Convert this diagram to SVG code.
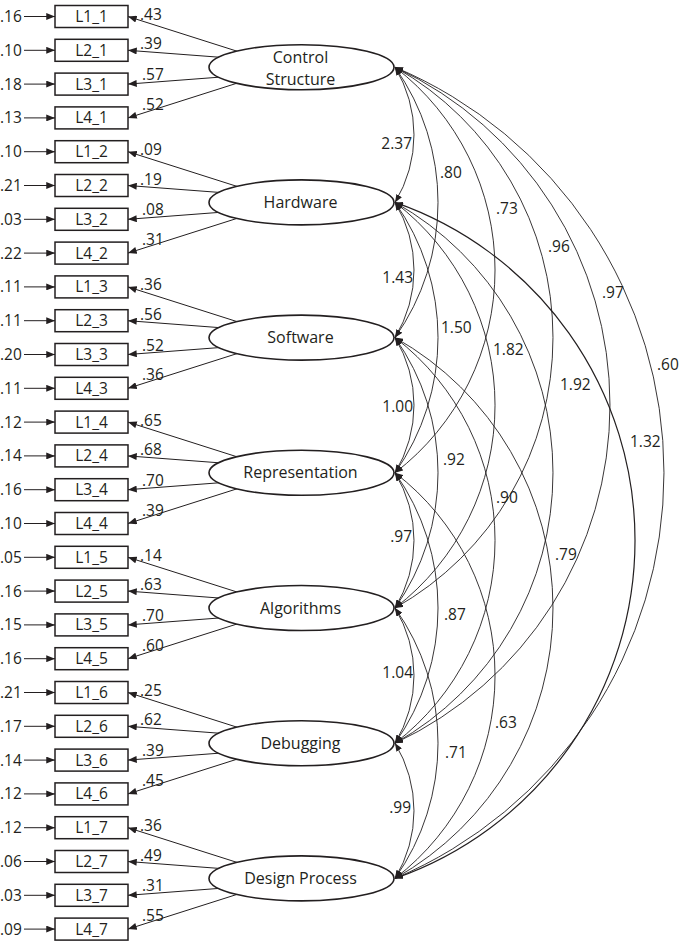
<svg xmlns="http://www.w3.org/2000/svg" width="685" height="942" viewBox="0 0 685 942">
<style>
text{font-family:"Open Sans","Liberation Sans",sans-serif;fill:#231f20}
.t{font-size:15.5px}
.f{font-size:16px;text-anchor:middle}
.b{font-size:15.5px;text-anchor:middle}
.cl{font-size:15.5px;text-anchor:end}
rect{fill:#fff;stroke:#231f20;stroke-width:1.5}
ellipse{fill:#fff;stroke:#231f20;stroke-width:1.6}
.ln{stroke:#231f20;stroke-width:1;fill:none;marker-end:url(#ah)}
.cv{stroke:#231f20;stroke-width:0.9;fill:none;marker-start:url(#ah2);marker-end:url(#ah2)}
</style>
<defs>
<marker id="ah" viewBox="0 0 10 8" refX="10" refY="4" markerWidth="9" markerHeight="7" orient="auto-start-reverse" markerUnits="userSpaceOnUse"><path d="M0,0 L10,4 L0,8 z" fill="#231f20"/></marker>
<marker id="ah2" viewBox="0 0 10 8" refX="10" refY="4" markerWidth="8" markerHeight="6.5" orient="auto-start-reverse" markerUnits="userSpaceOnUse"><path d="M0,0 L10,4 L0,8 z" fill="#231f20"/></marker>
</defs>
<rect x="0" y="0" width="685" height="942" style="fill:#fff;stroke:none"/>

<g id="connectors">
<g id="error-arrows">
<line class="ln" x1="24" y1="16.5" x2="55" y2="16.5"/>
<line class="ln" x1="24" y1="50.3" x2="55" y2="50.3"/>
<line class="ln" x1="24" y1="84.1" x2="55" y2="84.1"/>
<line class="ln" x1="24" y1="117.9" x2="55" y2="117.9"/>
<line class="ln" x1="24" y1="151.7" x2="55" y2="151.7"/>
<line class="ln" x1="24" y1="185.5" x2="55" y2="185.5"/>
<line class="ln" x1="24" y1="219.3" x2="55" y2="219.3"/>
<line class="ln" x1="24" y1="253.1" x2="55" y2="253.1"/>
<line class="ln" x1="24" y1="286.9" x2="55" y2="286.9"/>
<line class="ln" x1="24" y1="320.7" x2="55" y2="320.7"/>
<line class="ln" x1="24" y1="354.5" x2="55" y2="354.5"/>
<line class="ln" x1="24" y1="388.3" x2="55" y2="388.3"/>
<line class="ln" x1="24" y1="422.1" x2="55" y2="422.1"/>
<line class="ln" x1="24" y1="455.9" x2="55" y2="455.9"/>
<line class="ln" x1="24" y1="489.7" x2="55" y2="489.7"/>
<line class="ln" x1="24" y1="523.5" x2="55" y2="523.5"/>
<line class="ln" x1="24" y1="557.3" x2="55" y2="557.3"/>
<line class="ln" x1="24" y1="591.1" x2="55" y2="591.1"/>
<line class="ln" x1="24" y1="624.9" x2="55" y2="624.9"/>
<line class="ln" x1="24" y1="658.7" x2="55" y2="658.7"/>
<line class="ln" x1="24" y1="692.5" x2="55" y2="692.5"/>
<line class="ln" x1="24" y1="726.3" x2="55" y2="726.3"/>
<line class="ln" x1="24" y1="760.1" x2="55" y2="760.1"/>
<line class="ln" x1="24" y1="793.9" x2="55" y2="793.9"/>
<line class="ln" x1="24" y1="827.7" x2="55" y2="827.7"/>
<line class="ln" x1="24" y1="861.5" x2="55" y2="861.5"/>
<line class="ln" x1="24" y1="895.3" x2="55" y2="895.3"/>
<line class="ln" x1="24" y1="929.1" x2="55" y2="929.1"/>
</g>
<g id="loadings">
<line class="ln" x1="237" y1="51.2" x2="128" y2="16.5"/>
<line class="ln" x1="219" y1="57.2" x2="128" y2="50.3"/>
<line class="ln" x1="219" y1="77.2" x2="128" y2="84.1"/>
<line class="ln" x1="237" y1="83.2" x2="128" y2="117.9"/>

<line class="ln" x1="237" y1="186.4" x2="128" y2="151.7"/>
<line class="ln" x1="219" y1="192.4" x2="128" y2="185.5"/>
<line class="ln" x1="219" y1="212.4" x2="128" y2="219.3"/>
<line class="ln" x1="237" y1="218.4" x2="128" y2="253.1"/>

<line class="ln" x1="237" y1="321.6" x2="128" y2="286.9"/>
<line class="ln" x1="219" y1="327.6" x2="128" y2="320.7"/>
<line class="ln" x1="219" y1="347.6" x2="128" y2="354.5"/>
<line class="ln" x1="237" y1="353.6" x2="128" y2="388.3"/>

<line class="ln" x1="237" y1="456.8" x2="128" y2="422.1"/>
<line class="ln" x1="219" y1="462.8" x2="128" y2="455.9"/>
<line class="ln" x1="219" y1="482.8" x2="128" y2="489.7"/>
<line class="ln" x1="237" y1="488.8" x2="128" y2="523.5"/>

<line class="ln" x1="237" y1="592" x2="128" y2="557.3"/>
<line class="ln" x1="219" y1="598" x2="128" y2="591.1"/>
<line class="ln" x1="219" y1="618" x2="128" y2="624.9"/>
<line class="ln" x1="237" y1="624" x2="128" y2="658.7"/>

<line class="ln" x1="237" y1="727.2" x2="128" y2="692.5"/>
<line class="ln" x1="219" y1="733.2" x2="128" y2="726.3"/>
<line class="ln" x1="219" y1="753.2" x2="128" y2="760.1"/>
<line class="ln" x1="237" y1="759.2" x2="128" y2="793.9"/>

<line class="ln" x1="237" y1="862.4" x2="128" y2="827.7"/>
<line class="ln" x1="219" y1="868.4" x2="128" y2="861.5"/>
<line class="ln" x1="219" y1="888.4" x2="128" y2="895.3"/>
<line class="ln" x1="237" y1="894.4" x2="128" y2="929.1"/>
</g>
<g id="covariances">
<path class="cv" d="M395,67.2 A129.8,129.8 0 0 1 395,202.4"/>
<path class="cv" d="M395,202.4 A129.8,129.8 0 0 1 395,337.6"/>
<path class="cv" d="M395,337.6 A129.8,129.8 0 0 1 395,472.8"/>
<path class="cv" d="M395,472.8 A129.8,129.8 0 0 1 395,608"/>
<path class="cv" d="M395,608 A129.8,129.8 0 0 1 395,743.2"/>
<path class="cv" d="M395,743.2 A129.8,129.8 0 0 1 395,878.4"/>

<path class="cv" d="M395,67.2 A234,234 0 0 1 395,337.6"/>
<path class="cv" d="M395,202.4 A234,234 0 0 1 395,472.8"/>
<path class="cv" d="M395,337.6 A234,234 0 0 1 395,608"/>
<path class="cv" d="M395,472.8 A234,234 0 0 1 395,743.2"/>
<path class="cv" d="M395,608 A234,234 0 0 1 395,878.4"/>

<path class="cv" d="M395,67.2 A255.6,255.6 0 0 1 395,472.8"/>
<path class="cv" d="M395,202.4 A255.6,255.6 0 0 1 395,608"/>
<path class="cv" d="M395,337.6 A255.6,255.6 0 0 1 395,743.2"/>
<path class="cv" d="M395,472.8 A255.6,255.6 0 0 1 395,878.4"/>

<path class="cv" d="M395,67.2 A310.4,310.4 0 0 1 395,608"/>
<path class="cv" d="M395,202.4 A310.4,310.4 0 0 1 395,743.2"/>
<path class="cv" d="M395,337.6 A310.4,310.4 0 0 1 395,878.4"/>

<path class="cv" d="M395,67.2 A373.2,373.2 0 0 1 395,743.2"/>
<path class="cv" style="stroke-width:1.2" d="M395,202.4 A358,358 0 0 1 395,878.4"/>

<path class="cv" d="M395,67.2 A440.3,440.3 0 0 1 395,878.4"/>
</g>
<g id="connector-labels">
<text class="t" x="140" y="20">.43</text>
<text class="t" x="140" y="49.3">.39</text>
<text class="t" x="142" y="80.1">.57</text>
<text class="t" x="142" y="109.9">.52</text>
<text class="t" x="140" y="155.2">.09</text>
<text class="t" x="140" y="184.5">.19</text>
<text class="t" x="142" y="215.3">.08</text>
<text class="t" x="142" y="245.1">.31</text>
<text class="t" x="140" y="290.4">.36</text>
<text class="t" x="140" y="319.7">.56</text>
<text class="t" x="142" y="350.5">.52</text>
<text class="t" x="142" y="380.3">.36</text>
<text class="t" x="140" y="425.6">.65</text>
<text class="t" x="140" y="454.9">.68</text>
<text class="t" x="142" y="485.7">.70</text>
<text class="t" x="142" y="515.5">.39</text>
<text class="t" x="140" y="560.8">.14</text>
<text class="t" x="140" y="590.1">.63</text>
<text class="t" x="142" y="620.9">.70</text>
<text class="t" x="142" y="650.7">.60</text>
<text class="t" x="140" y="696">.25</text>
<text class="t" x="140" y="725.3">.62</text>
<text class="t" x="142" y="756.1">.39</text>
<text class="t" x="142" y="785.9">.45</text>
<text class="t" x="140" y="831.2">.36</text>
<text class="t" x="140" y="860.5">.49</text>
<text class="t" x="142" y="891.3">.31</text>
<text class="t" x="142" y="921.1">.55</text>

<text class="cl" x="412" y="149">2.37</text>
<text class="cl" x="413" y="283">1.43</text>
<text class="cl" x="413" y="412">1.00</text>
<text class="cl" x="412" y="542">.97</text>
<text class="cl" x="413" y="678">1.04</text>
<text class="cl" x="411" y="813">.99</text>

<text class="t" x="440" y="178">.80</text>
<text class="t" x="441" y="333">1.50</text>
<text class="t" x="443" y="465">.92</text>
<text class="t" x="444" y="620">.87</text>
<text class="t" x="445" y="758">.71</text>

<text class="t" x="496" y="214">.73</text>
<text class="t" x="493" y="355">1.82</text>
<text class="t" x="496" y="503">.90</text>
<text class="t" x="495" y="728">.63</text>

<text class="t" x="548" y="252">.96</text>
<text class="t" x="560" y="390">1.92</text>
<text class="t" x="555" y="560">.79</text>

<text class="t" x="602" y="298">.97</text>
<text class="t" x="630" y="447">1.32</text>

<text class="t" x="657" y="370">.60</text>
</g>
</g>

<g id="error-labels">
<text class="t" x="0" y="22">.16</text>
<text class="t" x="0" y="55.8">.10</text>
<text class="t" x="0" y="89.6">.18</text>
<text class="t" x="0" y="123.4">.13</text>
<text class="t" x="0" y="157.2">.10</text>
<text class="t" x="0" y="191">.21</text>
<text class="t" x="0" y="224.8">.03</text>
<text class="t" x="0" y="258.6">.22</text>
<text class="t" x="0" y="292.4">.11</text>
<text class="t" x="0" y="326.2">.11</text>
<text class="t" x="0" y="360">.20</text>
<text class="t" x="0" y="393.8">.11</text>
<text class="t" x="0" y="427.6">.12</text>
<text class="t" x="0" y="461.4">.14</text>
<text class="t" x="0" y="495.2">.16</text>
<text class="t" x="0" y="529">.10</text>
<text class="t" x="0" y="562.8">.05</text>
<text class="t" x="0" y="596.6">.16</text>
<text class="t" x="0" y="630.4">.15</text>
<text class="t" x="0" y="664.2">.16</text>
<text class="t" x="0" y="698">.21</text>
<text class="t" x="0" y="731.8">.17</text>
<text class="t" x="0" y="765.6">.14</text>
<text class="t" x="0" y="799.4">.12</text>
<text class="t" x="0" y="833.2">.12</text>
<text class="t" x="0" y="867">.06</text>
<text class="t" x="0" y="900.8">.03</text>
<text class="t" x="0" y="934.6">.09</text>
</g>

<g id="L1_1"><rect x="55" y="5.5" width="73" height="22"/><text class="b" x="91.5" y="22">L1_1</text></g>
<g id="L2_1"><rect x="55" y="39.3" width="73" height="22"/><text class="b" x="91.5" y="55.8">L2_1</text></g>
<g id="L3_1"><rect x="55" y="73.1" width="73" height="22"/><text class="b" x="91.5" y="89.6">L3_1</text></g>
<g id="L4_1"><rect x="55" y="106.9" width="73" height="22"/><text class="b" x="91.5" y="123.4">L4_1</text></g>
<g id="L1_2"><rect x="55" y="140.7" width="73" height="22"/><text class="b" x="91.5" y="157.2">L1_2</text></g>
<g id="L2_2"><rect x="55" y="174.5" width="73" height="22"/><text class="b" x="91.5" y="191">L2_2</text></g>
<g id="L3_2"><rect x="55" y="208.3" width="73" height="22"/><text class="b" x="91.5" y="224.8">L3_2</text></g>
<g id="L4_2"><rect x="55" y="242.1" width="73" height="22"/><text class="b" x="91.5" y="258.6">L4_2</text></g>
<g id="L1_3"><rect x="55" y="275.9" width="73" height="22"/><text class="b" x="91.5" y="292.4">L1_3</text></g>
<g id="L2_3"><rect x="55" y="309.7" width="73" height="22"/><text class="b" x="91.5" y="326.2">L2_3</text></g>
<g id="L3_3"><rect x="55" y="343.5" width="73" height="22"/><text class="b" x="91.5" y="360">L3_3</text></g>
<g id="L4_3"><rect x="55" y="377.3" width="73" height="22"/><text class="b" x="91.5" y="393.8">L4_3</text></g>
<g id="L1_4"><rect x="55" y="411.1" width="73" height="22"/><text class="b" x="91.5" y="427.6">L1_4</text></g>
<g id="L2_4"><rect x="55" y="444.9" width="73" height="22"/><text class="b" x="91.5" y="461.4">L2_4</text></g>
<g id="L3_4"><rect x="55" y="478.7" width="73" height="22"/><text class="b" x="91.5" y="495.2">L3_4</text></g>
<g id="L4_4"><rect x="55" y="512.5" width="73" height="22"/><text class="b" x="91.5" y="529">L4_4</text></g>
<g id="L1_5"><rect x="55" y="546.3" width="73" height="22"/><text class="b" x="91.5" y="562.8">L1_5</text></g>
<g id="L2_5"><rect x="55" y="580.1" width="73" height="22"/><text class="b" x="91.5" y="596.6">L2_5</text></g>
<g id="L3_5"><rect x="55" y="613.9" width="73" height="22"/><text class="b" x="91.5" y="630.4">L3_5</text></g>
<g id="L4_5"><rect x="55" y="647.7" width="73" height="22"/><text class="b" x="91.5" y="664.2">L4_5</text></g>
<g id="L1_6"><rect x="55" y="681.5" width="73" height="22"/><text class="b" x="91.5" y="698">L1_6</text></g>
<g id="L2_6"><rect x="55" y="715.3" width="73" height="22"/><text class="b" x="91.5" y="731.8">L2_6</text></g>
<g id="L3_6"><rect x="55" y="749.1" width="73" height="22"/><text class="b" x="91.5" y="765.6">L3_6</text></g>
<g id="L4_6"><rect x="55" y="782.9" width="73" height="22"/><text class="b" x="91.5" y="799.4">L4_6</text></g>
<g id="L1_7"><rect x="55" y="816.7" width="73" height="22"/><text class="b" x="91.5" y="833.2">L1_7</text></g>
<g id="L2_7"><rect x="55" y="850.5" width="73" height="22"/><text class="b" x="91.5" y="867">L2_7</text></g>
<g id="L3_7"><rect x="55" y="884.3" width="73" height="22"/><text class="b" x="91.5" y="900.8">L3_7</text></g>
<g id="L4_7"><rect x="55" y="918.1" width="73" height="22"/><text class="b" x="91.5" y="934.6">L4_7</text></g>

<g id="control-structure"><ellipse cx="301.5" cy="67.2" rx="92.5" ry="22.5"/><text class="f" x="300.5" y="62.9">Control</text><text class="f" x="300.5" y="84.9">Structure</text></g>
<g id="hardware"><ellipse cx="301.5" cy="202.4" rx="92.5" ry="22.5"/><text class="f" x="300.5" y="208">Hardware</text></g>
<g id="software"><ellipse cx="301.5" cy="337.6" rx="92.5" ry="22.5"/><text class="f" x="300.5" y="343.2">Software</text></g>
<g id="representation"><ellipse cx="301.5" cy="472.8" rx="92.5" ry="22.5"/><text class="f" x="300.5" y="478.4">Representation</text></g>
<g id="algorithms"><ellipse cx="301.5" cy="608" rx="92.5" ry="22.5"/><text class="f" x="300.5" y="613.6">Algorithms</text></g>
<g id="debugging"><ellipse cx="301.5" cy="743.2" rx="92.5" ry="22.5"/><text class="f" x="300.5" y="748.8">Debugging</text></g>
<g id="design-process"><ellipse cx="301.5" cy="878.4" rx="92.5" ry="22.5"/><text class="f" x="300.5" y="884">Design Process</text></g>
</svg>
